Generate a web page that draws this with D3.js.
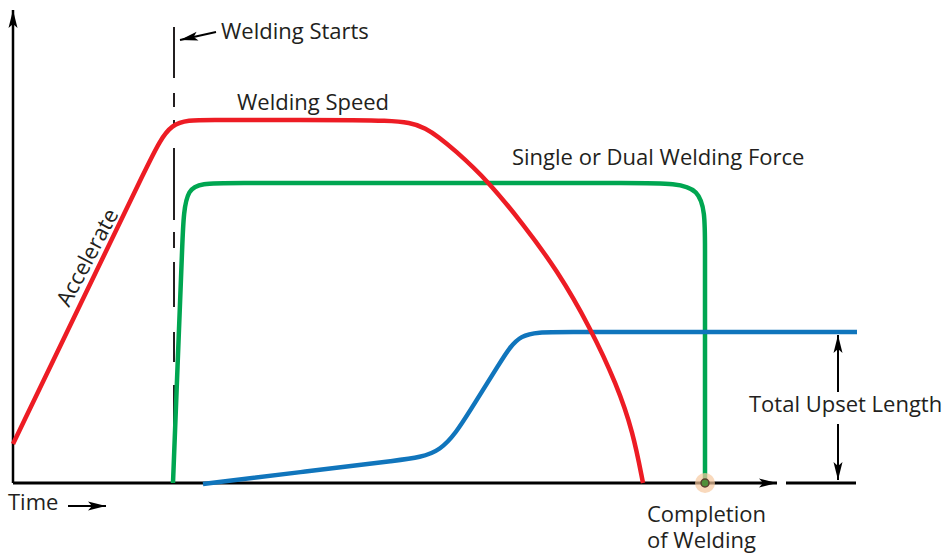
<!DOCTYPE html>
<html lang="en">
<head>
  <meta charset="UTF-8" />
  <title>Welding Cycle</title>
  <script src="https://d3js.org/d3.v7.min.js"></script>
  <style>
    body { margin: 0; background: white; }
    svg { display: block; }
    text { font-family: "Open Sans", sans-serif; font-size: 22px; fill: #231f20; }
  </style>
</head>
<body>
  <svg id="chart" width="942" height="553"></svg>
  <script>
    // shape points of each curve (time units, value units), smoothed with a B-spline
    const speedTime  = [0, 67, 137, 157, 192, 287, 382, 412, 444, 474, 510, 544, 577, 604, 620, 630];
    const speedValue = [39, 178, 323, 363, 363, 363, 363, 358, 331, 303, 259, 213, 156, 98, 51, 0];

    const forceTime  = [160, 164.9, 169.5, 171.7, 202, 407, 637, 692, 692, 692, 692];
    const forceValue = [0, 126, 243, 300, 300, 300, 300, 300, 243, 123, 0];

    const upsetTime  = [190, 287, 387, 429, 457, 487, 506, 542, 687, 844];
    const upsetValue = [-1, 10.8, 23, 28, 72.2, 120.2, 151, 151, 151, 151];

    const weldStart = 161;
    const weldEnd = 692;
    const upsetTotal = 151;

    const svg = d3.select("#chart");
    const x = d3.scaleLinear().domain([0, 764]).range([13, 777]);
    const y = d3.scaleLinear().domain([0, 473]).range([483, 10]);

    const defs = svg.append("defs");
    defs.append("marker")
      .attr("id", "arrow")
      .attr("markerUnits", "userSpaceOnUse")
      .attr("viewBox", "-18 -5 18 10")
      .attr("refX", 0).attr("refY", 0)
      .attr("markerWidth", 18).attr("markerHeight", 10)
      .attr("orient", "auto-start-reverse")
      .append("path")
      .attr("d", "M0,0 L-18,-4.5 L-14,0 L-18,4.5 Z")
      .attr("fill", "#000");

    const line = d3.line()
      .x(d => x(d[0]))
      .y(d => y(d[1]))
      .curve(d3.curveBasis);

    const straight = d3.line().x(d => x(d[0])).y(d => y(d[1]));

    // axes
    svg.append("path")
      .attr("d", straight([[0, 0], [0, 473]]))
      .attr("stroke", "#000").attr("stroke-width", 2.5).attr("fill", "none")
      .attr("marker-end", "url(#arrow)");
    svg.append("path")
      .attr("d", straight([[0, 0], [764, 0]]))
      .attr("stroke", "#000").attr("stroke-width", 3).attr("fill", "none")
      .attr("marker-end", "url(#arrow)");
    svg.append("path")
      .attr("d", straight([[773, 0], [843, 0]]))
      .attr("stroke", "#000").attr("stroke-width", 3).attr("fill", "none");

    // welding starts dashed marker
    svg.append("path")
      .attr("d", straight([[weldStart, 456], [weldStart, 0]]))
      .attr("stroke", "#231f20").attr("stroke-width", 2).attr("fill", "none")
      .attr("stroke-dasharray", "51,15,14,13,7,21,72,12,16,14,45,25,30,23,100");

    const zip = (a, b) => a.map((t, i) => [t, b[i]]);

    svg.append("path")
      .attr("d", line(zip(forceTime, forceValue)))
      .attr("stroke", "#00a651").attr("stroke-width", 4.5).attr("fill", "none");

    svg.append("path")
      .attr("d", line(zip(upsetTime, upsetValue)))
      .attr("stroke", "#1075bc").attr("stroke-width", 4.5).attr("fill", "none");

    svg.append("path")
      .attr("d", line(zip(speedTime, speedValue)))
      .attr("stroke", "#ed1c24").attr("stroke-width", 4.5).attr("fill", "none");

    // completion point
    svg.append("circle")
      .attr("cx", x(weldEnd)).attr("cy", y(0)).attr("r", 10)
      .attr("fill", "#f7c9a0").attr("opacity", 0.7);
    svg.append("circle")
      .attr("cx", x(weldEnd)).attr("cy", y(0)).attr("r", 4)
      .attr("fill", "#4f8f3a").attr("stroke", "#5a4030").attr("stroke-width", 1.5);

    // arrows
    const arrows = [
      [[203, 451], [167, 443]],
      [[55, -23], [93, -23]],
      [[825, 91], [825, upsetTotal - 3]],
      [[825, 59], [825, 3]]
    ];
    arrows.forEach(a => {
      svg.append("path")
        .attr("d", straight(a))
        .attr("stroke", "#000").attr("stroke-width", 2).attr("fill", "none")
        .attr("marker-end", "url(#arrow)");
    });

    // labels
    const labels = [
      { text: "Welding Starts", t: 208, v: 444 },
      { text: "Welding Speed", t: 224, v: 373 },
      { text: "Single or Dual Welding Force", t: 499, v: 318 },
      { text: "Total Upset Length", t: 736, v: 71 },
      { text: "Time", t: -5, v: -27 }
    ];
    svg.selectAll("text.label")
      .data(labels)
      .enter()
      .append("text")
      .attr("class", "label")
      .attr("x", d => x(d.t))
      .attr("y", d => y(d.v))
      .text(d => d.text);

    const completion = svg.append("text")
      .attr("x", x(634)).attr("y", y(-39));
    completion.append("tspan").attr("x", x(634)).text("Completion");
    completion.append("tspan").attr("x", x(634)).attr("dy", 26).text("of Welding");

    svg.append("text")
      .attr("transform", `translate(${x(81)},${y(222)}) rotate(-62)`)
      .attr("text-anchor", "middle")
      .text("Accelerate");
  </script>
</body>
</html>
